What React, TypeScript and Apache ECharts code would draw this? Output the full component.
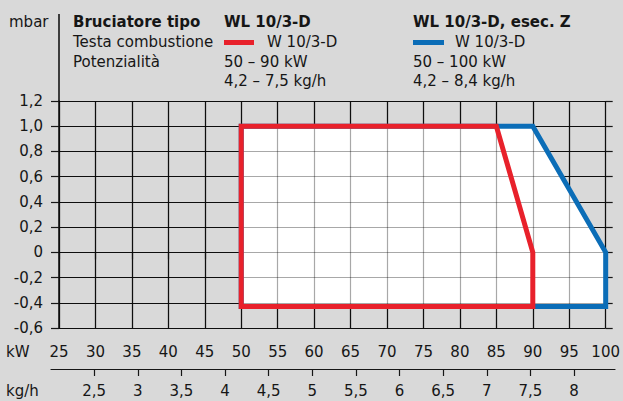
import React, { useEffect, useRef } from "react";
import * as echarts from "echarts";

// ---- data ----
const kwTicks = { min: 25, max: 100, step: 5 };
const mbarTicks = { min: -0.6, max: 1.2, step: 0.2 };
const kghTickValues = [2.5, 3, 3.5, 4, 4.5, 5, 5.5, 6, 6.5, 7, 7.5, 8];
const KW_PER_KGH = 11.92;

// WL 10/3-D (red)
const redKw = [50, 50, 85, 90, 90, 50];
const redMbar = [-0.43, 1.0, 1.0, 0, -0.43, -0.43];
// WL 10/3-D, esec. Z (blue)
const blueKw = [50, 50, 90, 100, 100, 50];
const blueMbar = [-0.43, 1.0, 1.0, 0, -0.43, -0.43];

const headerLeft = ["Bruciatore tipo", "Testa combustione", "Potenzialità"];
const headerRed = ["WL 10/3-D", "W 10/3-D", "50 – 90 kW", "4,2 – 7,5 kg/h"];
const headerBlue = ["WL 10/3-D, esec. Z", "W 10/3-D", "50 – 100 kW", "4,2 – 8,4 kg/h"];

// ---- layout ----
const W = 623;
const H = 401;
const G_LEFT = 59;
const G_RIGHT = 608;
const G_TOP = 101;
const G_BOTTOM = 328;
const KGH_LEFT = 51;
const KGH_RIGHT = 615;
const KGH_LINE_Y = 369;
const FONT = '"DejaVu Sans", sans-serif';
const FS = 15;
const INK = "#161616";
const RED = "#e8212b";
const BLUE = "#0b6db7";
const ROWS = [21.5, 41.5, 61.5, 81];

const fmtComma = (v: number, dec: number) => {
  if (Math.abs(v) < 1e-9) return "0";
  return v.toFixed(dec).replace(".", ",");
};

export default function App() {
  const ref = useRef<HTMLDivElement>(null);
  useEffect(() => {
    document.body.style.margin = "0";
    const chart = echarts.init(ref.current!, null, { renderer: "svg" });
    const kwPerPx = (kwTicks.max - kwTicks.min) / (G_RIGHT - G_LEFT);
    const kghMin = (kwTicks.min - (G_LEFT - KGH_LEFT) * kwPerPx) / KW_PER_KGH;
    const kghMax = (kwTicks.max + (KGH_RIGHT - G_RIGHT) * kwPerPx) / KW_PER_KGH;

    const textStyle = (text: string, x: number, y: number, bold = false) => ({
      type: "text",
      x,
      y,
      style: {
        text,
        fill: INK,
        fontSize: FS,
        fontFamily: FONT,
        fontWeight: bold ? "bold" : "normal",
        verticalAlign: "middle",
        align: "left",
      },
    });

    const blueData = blueKw.map((x, i) => [x, blueMbar[i]]);
    const redData = redKw.map((x, i) => [x, redMbar[i]]);

    const option: any = {
      animation: false,
      backgroundColor: "#d9d9d9",
      grid: [
        { left: G_LEFT, top: G_TOP, width: G_RIGHT - G_LEFT, height: G_BOTTOM - G_TOP },
        { left: KGH_LEFT, top: KGH_LINE_Y - 10, width: KGH_RIGHT - KGH_LEFT, height: 10 },
      ],
      xAxis: [
        {
          gridIndex: 0,
          type: "value",
          position: "bottom",
          min: kwTicks.min,
          max: kwTicks.max,
          interval: kwTicks.step,
          z: 0,
          axisLine: { show: true, lineStyle: { color: INK, width: 1.2 } },
          axisTick: { show: true, length: 7, inside: false, lineStyle: { color: INK, width: 1.2 } },
          axisLabel: { show: true, margin: 16, color: INK, fontSize: FS, fontFamily: FONT },
          splitLine: { show: true, lineStyle: { color: INK, width: 1.2 } },
        },
        {
          gridIndex: 1,
          type: "value",
          position: "bottom",
          min: kghMin,
          max: kghMax,
          axisLine: { show: true, lineStyle: { color: INK, width: 1.2 } },
          axisTick: { show: true, length: 7, lineStyle: { color: INK, width: 1.2 }, customValues: kghTickValues },
          axisLabel: {
            show: true,
            margin: 14,
            color: INK,
            fontSize: FS,
            fontFamily: FONT,
            customValues: kghTickValues,
            formatter: (v: number) => String(v).replace(".", ","),
          },
          splitLine: { show: false },
        },
        {
          gridIndex: 0,
          type: "value",
          position: "top",
          min: kwTicks.min,
          max: kwTicks.max,
          interval: kwTicks.step,
          z: 2,
          axisLine: { show: false },
          axisTick: { show: false },
          axisLabel: { show: false },
          splitLine: { show: true, lineStyle: { color: "rgba(0,0,0,0.34)", width: 1.2 } },
        },
      ],
      yAxis: [
        {
          gridIndex: 0,
          type: "value",
          position: "left",
          min: mbarTicks.min,
          max: mbarTicks.max,
          interval: mbarTicks.step,
          z: 0,
          axisLine: { show: true, lineStyle: { color: INK, width: 1.6 } },
          axisTick: { show: true, length: 8, lineStyle: { color: INK, width: 1.2 } },
          axisLabel: {
            show: true,
            margin: 16,
            color: INK,
            fontSize: FS,
            fontFamily: FONT,
            formatter: (v: number) => fmtComma(v, 1),
          },
          splitLine: { show: true, lineStyle: { color: INK, width: 1.2 } },
        },
        {
          gridIndex: 1,
          type: "value",
          show: false,
        },
        {
          gridIndex: 0,
          type: "value",
          position: "right",
          min: mbarTicks.min,
          max: mbarTicks.max,
          interval: mbarTicks.step,
          z: 2,
          axisLine: { show: false },
          axisTick: { show: true, length: 7, lineStyle: { color: INK, width: 1.2 } },
          axisLabel: { show: false },
          splitLine: { show: true, lineStyle: { color: "rgba(0,0,0,0.34)", width: 1.2 } },
        },
      ],
      series: [
        {
          type: "custom",
          xAxisIndex: 0,
          yAxisIndex: 0,
          z: 1,
          clip: false,
          data: blueData,
          renderItem: (params: any, api: any) => {
            if (params.dataIndex !== 0) return null;
            const pts = blueData.map((p) => api.coord(p));
            return { type: "polygon", shape: { points: pts }, style: { fill: "#ffffff" } };
          },
        },
        {
          type: "line",
          name: "WL 10/3-D, esec. Z",
          xAxisIndex: 0,
          yAxisIndex: 0,
          z: 3,
          clip: false,
          symbol: "none",
          data: blueData,
          lineStyle: { color: BLUE, width: 5, join: "miter", cap: "square" },
        },
        {
          type: "line",
          name: "WL 10/3-D",
          xAxisIndex: 0,
          yAxisIndex: 0,
          z: 4,
          clip: false,
          symbol: "none",
          data: redData,
          lineStyle: { color: RED, width: 5, join: "miter", cap: "square" },
        },
      ],
      graphic: [
        {
          type: "line",
          shape: { x1: G_LEFT, y1: 14, x2: G_LEFT, y2: G_TOP },
          style: { stroke: INK, lineWidth: 1.6 },
        },
        textStyle("mbar", 9, ROWS[0]),
        textStyle(headerLeft[0], 73, ROWS[0], true),
        textStyle(headerLeft[1], 73, ROWS[1]),
        textStyle(headerLeft[2], 73, ROWS[2]),
        textStyle(headerRed[0], 224, ROWS[0], true),
        {
          type: "line",
          shape: { x1: 224, y1: ROWS[1] + 1, x2: 254, y2: ROWS[1] + 1 },
          style: { stroke: RED, lineWidth: 5 },
        },
        textStyle(headerRed[1], 267, ROWS[1]),
        textStyle(headerRed[2], 224, ROWS[2]),
        textStyle(headerRed[3], 224, ROWS[3]),
        textStyle(headerBlue[0], 413, ROWS[0], true),
        {
          type: "line",
          shape: { x1: 413, y1: ROWS[1] + 1, x2: 444, y2: ROWS[1] + 1 },
          style: { stroke: BLUE, lineWidth: 5 },
        },
        textStyle(headerBlue[1], 455, ROWS[1]),
        textStyle(headerBlue[2], 413, ROWS[2]),
        textStyle(headerBlue[3], 413, ROWS[3]),
        textStyle("kW", 6, 352),
        textStyle("kg/h", 6, 391),
      ],
    };
    chart.setOption(option);
    return () => chart.dispose();
  }, []);
  return <div ref={ref} style={{ width: W, height: H }} />;
}
